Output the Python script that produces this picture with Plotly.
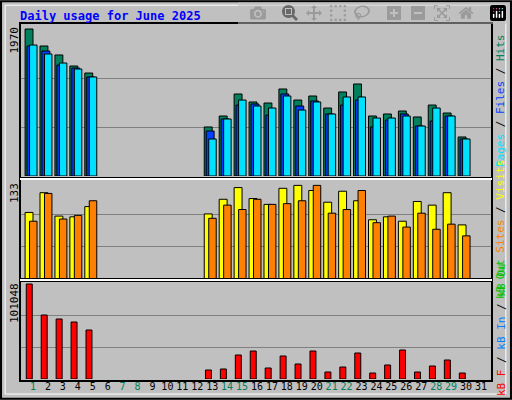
import plotly.graph_objects as go

days = list(range(1, 32))
N = None
hits  = [1970,1742,1622,1474,1380,N,N,N,N,N,N,N,657,804,1099,992,978,1166,1018,1072,911,1126,1233,804,831,871,791,951,844,523,N]
files = [1742,1675,1487,1447,1327,N,N,N,N,N,N,N,603,764,951,965,817,1099,938,1005,831,951,1018,657,750,831,670,737,804,496,N]
pages = [1755,1635,1514,1434,1327,N,N,N,N,N,N,N,496,764,1018,938,911,1072,884,992,831,1059,1059,777,777,804,670,911,804,496,N]
visits = [91,118,86,85,99,N,N,N,N,N,N,N,89,109,125,110,102,124,128,121,105,120,107,81,85,79,106,101,118,74,N]
sites  = [79,117,82,87,107,N,N,N,N,N,N,N,83,101,95,109,102,103,107,128,90,95,121,77,86,71,90,68,75,59,N]
kbytes = [101048,68077,63822,60631,52121,N,N,N,N,N,N,N,9573,10637,25529,29784,11701,24465,15956,29784,7446,12764,27656,6382,14892,30847,7446,13828,20210,6382,N]
weekend = [1,7,8,14,15,21,22,28,29]
max_hits, max_visits, max_kb = 1970, 133, 101048

fig = go.Figure()
line = dict(color="black", width=1)
def bar(y, color, off, w, ax):
    fig.add_trace(go.Bar(x=days, y=y, marker=dict(color=color, line=line),
                         offset=off, width=w, xaxis="x", yaxis=ax, showlegend=False))
bar(hits, "#00805C", -0.53, 0.53, "y")
bar(files, "#0040FF", -0.40, 0.53, "y")
bar(pages, "#00E0FF", -0.23, 0.5, "y")
bar(visits, "#FFFF00", -0.53, 0.53, "y2")
bar(sites, "#FF8000", -0.23, 0.5, "y2")
bar(kbytes, "#FF0000", -0.45, 0.4, "y3")

ticktext = [f'<span style="color:{"#00805C" if d in weekend else "black"}">{d}</span>' for d in days]
mono = "DejaVu Sans Mono"
fig.update_layout(
    width=512, height=400, margin=dict(l=0, r=0, t=0, b=0),
    paper_bgcolor="#C0C0C0", plot_bgcolor="#C0C0C0", barmode="overlay",
    font=dict(family=mono, size=11, color="black"),
    xaxis=dict(domain=[20/512, 492/512], range=[0.13, 31.74], tickvals=days, ticktext=ticktext,
               tickangle=0, tickfont=dict(size=10), showgrid=False, ticks="", anchor="y3", zeroline=False),
    yaxis=dict(domain=[224/400, 375/400], range=[0, max_hits*151/147], tickvals=[max_hits/3, 2*max_hits/3],
               showticklabels=False, gridcolor="#808080", zeroline=False),
    yaxis2=dict(domain=[121/400, 219/400], range=[0, 134], tickvals=[max_visits/3, 2*max_visits/3],
                showticklabels=False, gridcolor="#808080", zeroline=False),
    yaxis3=dict(domain=[21/400, 119/400], range=[0, max_kb*98/95], tickvals=[max_kb/3, 2*max_kb/3],
                showticklabels=False, gridcolor="#808080", zeroline=False),
)
shapes = []
for y0, y1 in [(224, 375), (121, 219), (21, 119)]:
    shapes.append(dict(type="rect", xref="paper", yref="paper", x0=20/512, x1=492/512,
                       y0=(y0-2)/400, y1=(y1+2)/400, line=dict(color="black", width=2), fillcolor="rgba(0,0,0,0)"))
shapes.append(dict(type="line", xref="paper", yref="paper", x0=20/512, x1=492/512, y0=221/400, y1=221/400, line=dict(color="white", width=2)))
shapes.append(dict(type="line", xref="paper", yref="paper", x0=20/512, x1=492/512, y0=120/400, y1=120/400, line=dict(color="white", width=2)))
shapes.append(dict(type="rect", xref="paper", yref="paper", x0=0.002, x1=0.998, y0=0.003, y1=0.997, line=dict(color="black", width=2)))
shapes.append(dict(type="rect", xref="paper", yref="paper", x0=0.01, x1=0.988, y0=0.015, y1=0.987, line=dict(color="white", width=1)))
fig.update_layout(shapes=shapes)

ann = [
    dict(x=18/512, y=384/400, text="<b>Daily usage for June 2025</b>", xanchor="left", yanchor="middle",
         font=dict(color="#0000FF", size=12, family=mono)),
    dict(x=14/512, y=375/400, text=str(max_hits), textangle=-90, xanchor="center", yanchor="top"),
    dict(x=14/512, y=219/400, text=str(max_visits), textangle=-90, xanchor="center", yanchor="top"),
    dict(x=14/512, y=119/400, text=str(max_kb), textangle=-90, xanchor="center", yanchor="top"),
    dict(x=501/512, y=299/400, textangle=-90, xanchor="center", yanchor="middle",
         text='<span style="color:#00E0FF">Pages</span> / <span style="color:#0040FF">Files</span> / <span style="color:#00805C">Hits</span>'),
    dict(x=501/512, y=170/400, textangle=-90, xanchor="center", yanchor="middle",
         text='<span style="color:#00C000">kB Out</span> <span style="color:#FF8000">Sites</span> / <span style="color:#FFFF00">Visits</span>'),
    dict(x=501/512, y=70/400, textangle=-90, xanchor="center", yanchor="middle",
         text='<span style="color:#FF0000">kB F</span> / <span style="color:#0080FF">kB In</span> / <span style="color:#00C000">kB Ou</span>'),
]
for a in ann:
    a.setdefault("showarrow", False)
    a.setdefault("xref", "paper"); a.setdefault("yref", "paper")
fig.update_layout(annotations=ann)
fig.write_html("out.html", post_script="document.body.style.margin='0';document.body.style.overflow='hidden';")
